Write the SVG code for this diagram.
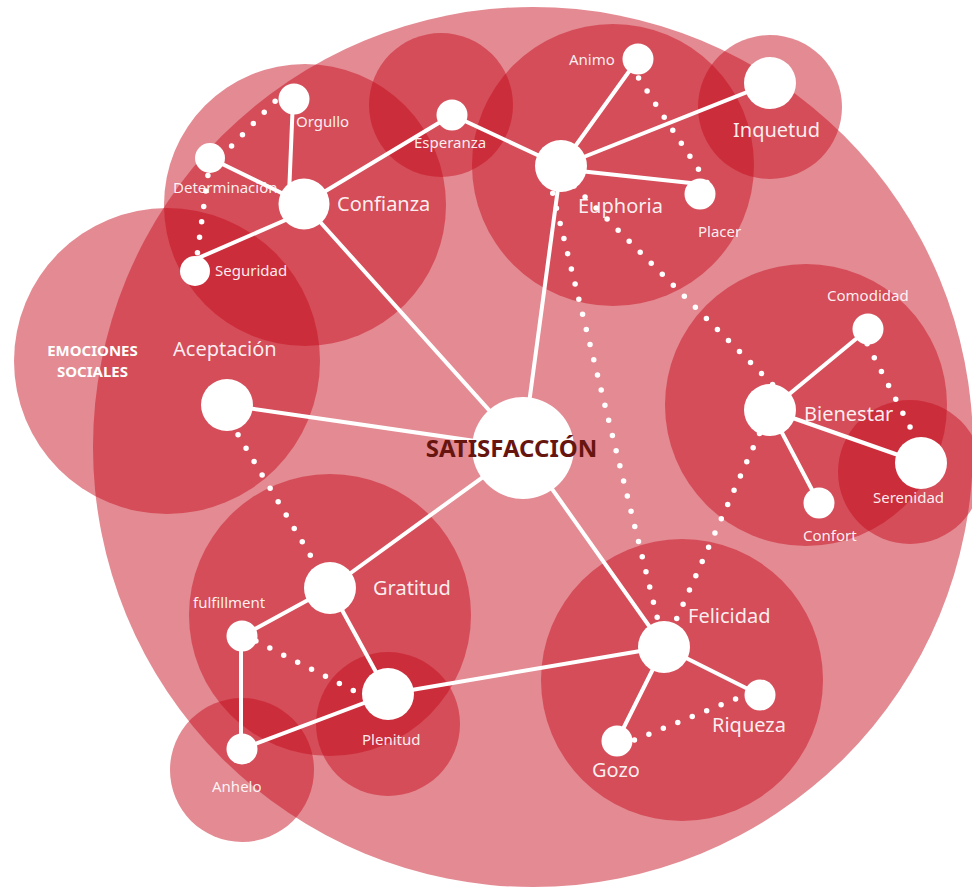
<svg xmlns="http://www.w3.org/2000/svg" width="972" height="887" viewBox="0 0 972 887">
<style>
.zone{fill:#c40a1c;fill-opacity:0.48}
.node{fill:#ffffff}
.ln{stroke:#ffffff;stroke-width:4;fill:none;stroke-linecap:round}
.dot{stroke:#ffffff;stroke-width:5.5;fill:none;stroke-linecap:round;stroke-dasharray:0 15.6}
.s{font-family:"Noto Sans","Liberation Sans",sans-serif;font-size:15px;fill:#ffffff;fill-opacity:0.92}
.l{font-family:"Noto Sans","Liberation Sans",sans-serif;font-size:20px;fill:#ffffff;fill-opacity:0.92}
.b{font-family:"Noto Sans","Liberation Sans",sans-serif;font-size:15px;font-weight:bold;fill:#ffffff;text-anchor:middle}
.c{font-family:"Noto Sans","Liberation Sans",sans-serif;font-size:24px;font-weight:bold;fill:#66150f;text-anchor:middle}
</style>
<rect width="972" height="887" fill="#ffffff"/>
<g id="zones">
<circle class="zone" cx="533" cy="447" r="440"/>
<circle class="zone" cx="167" cy="361" r="153"/>
<circle class="zone" cx="305" cy="205" r="141"/>
<circle class="zone" cx="441" cy="105" r="72"/>
<circle class="zone" cx="613" cy="165" r="141"/>
<circle class="zone" cx="770" cy="107" r="72"/>
<circle class="zone" cx="806" cy="405" r="141"/>
<circle class="zone" cx="910" cy="472" r="72"/>
<circle class="zone" cx="330" cy="615" r="141"/>
<circle class="zone" cx="388" cy="724" r="72"/>
<circle class="zone" cx="242" cy="770" r="72"/>
<circle class="zone" cx="682" cy="680" r="141"/>
</g>
<g id="connectors">
<line class="ln" x1="293" y1="99" x2="289" y2="195"/>
<line class="ln" x1="210" y1="158" x2="304" y2="204"/>
<line class="ln" x1="196" y1="259" x2="304" y2="212"/>
<line class="ln" x1="304" y1="204" x2="452" y2="115"/>
<line class="ln" x1="304" y1="204" x2="523" y2="448"/>
<line class="ln" x1="452" y1="115" x2="561" y2="166"/>
<line class="ln" x1="561" y1="166" x2="638" y2="59"/>
<line class="ln" x1="561" y1="166" x2="770" y2="83"/>
<line class="ln" x1="561" y1="169" x2="700" y2="184"/>
<line class="ln" x1="561" y1="166" x2="523" y2="448"/>
<line class="ln" x1="227" y1="405" x2="523" y2="448"/>
<line class="ln" x1="770" y1="410" x2="868" y2="329"/>
<line class="ln" x1="770" y1="410" x2="921" y2="463"/>
<line class="ln" x1="770" y1="410" x2="819" y2="503"/>
<line class="ln" x1="523" y1="448" x2="330" y2="588"/>
<line class="ln" x1="330" y1="588" x2="242" y2="636"/>
<line class="ln" x1="330" y1="588" x2="388" y2="694"/>
<line class="ln" x1="241" y1="636" x2="241" y2="749"/>
<line class="ln" x1="242" y1="749" x2="388" y2="694"/>
<line class="ln" x1="388" y1="694" x2="664" y2="647"/>
<line class="ln" x1="523" y1="448" x2="664" y2="647"/>
<line class="ln" x1="664" y1="647" x2="617" y2="741"/>
<line class="ln" x1="664" y1="647" x2="760" y2="695"/>
<line class="dot" x1="286" y1="90" x2="213" y2="165"/>
<line class="dot" x1="210" y1="160" x2="195" y2="271"/>
<line class="dot" x1="630" y1="65" x2="712" y2="190"/>
<line class="dot" x1="563" y1="175" x2="780" y2="392"/>
<line class="dot" x1="549" y1="178" x2="664" y2="645"/>
<line class="dot" x1="664" y1="647" x2="770" y2="410"/>
<line class="dot" x1="860" y1="330" x2="926" y2="458"/>
<line class="dot" x1="222" y1="408" x2="330" y2="588"/>
<line class="dot" x1="242" y1="634" x2="380" y2="704"/>
<line class="dot" x1="620" y1="746" x2="755" y2="691"/>
</g>
<g id="emociones-sociales"><text class="b" x="92.5" y="356">EMOCIONES</text><text class="b" x="92.5" y="377">SOCIALES</text></g>
<g id="orgullo"><circle class="node" cx="294" cy="99" r="15.5"/><text class="s" x="296" y="127">Orgullo</text></g>
<g id="determinacion"><circle class="node" cx="210" cy="158" r="15"/><text class="s" x="173" y="193">Determinación</text></g>
<g id="seguridad"><circle class="node" cx="195" cy="271" r="15"/><text class="s" x="215" y="276">Seguridad</text></g>
<g id="confianza"><circle class="node" cx="304" cy="204" r="25.5"/><text class="l" x="337" y="211">Confianza</text></g>
<g id="esperanza"><circle class="node" cx="452" cy="115" r="15.5"/><text class="s" x="414" y="148">Esperanza</text></g>
<g id="animo"><circle class="node" cx="638" cy="59" r="15.5"/><text class="s" x="569" y="65">Animo</text></g>
<g id="euphoria"><circle class="node" cx="561" cy="166" r="26"/><text class="l" x="578" y="213">Euphoria</text></g>
<g id="placer"><circle class="node" cx="700" cy="194" r="15.5"/><text class="s" x="698" y="237">Placer</text></g>
<g id="inquetud"><circle class="node" cx="770" cy="83" r="26"/><text class="l" x="733" y="137">Inquetud</text></g>
<g id="aceptacion"><circle class="node" cx="227" cy="405" r="26"/><text class="l" x="173" y="356">Aceptación</text></g>
<g id="satisfaccion"><circle class="node" cx="523" cy="448" r="51"/><text class="c" x="511.5" y="457">SATISFACCIÓN</text></g>
<g id="comodidad"><circle class="node" cx="868" cy="329" r="15.5"/><text class="s" x="827" y="301">Comodidad</text></g>
<g id="bienestar"><circle class="node" cx="770" cy="410" r="26"/><text class="l" x="804" y="421">Bienestar</text></g>
<g id="serenidad"><circle class="node" cx="921" cy="463" r="26"/><text class="s" x="873" y="503">Serenidad</text></g>
<g id="confort"><circle class="node" cx="819" cy="503" r="15.5"/><text class="s" x="803" y="541">Confort</text></g>
<g id="gratitud"><circle class="node" cx="330" cy="588" r="26"/><text class="l" x="373" y="595">Gratitud</text></g>
<g id="fulfillment"><circle class="node" cx="242" cy="636" r="15.5"/><text class="s" x="193" y="608">fulfillment</text></g>
<g id="plenitud"><circle class="node" cx="388" cy="694" r="26"/><text class="s" x="362" y="745">Plenitud</text></g>
<g id="anhelo"><circle class="node" cx="242" cy="749" r="15.5"/><text class="s" x="212" y="792">Anhelo</text></g>
<g id="felicidad"><circle class="node" cx="664" cy="647" r="26"/><text class="l" x="688" y="623">Felicidad</text></g>
<g id="riqueza"><circle class="node" cx="760" cy="695" r="15.5"/><text class="l" x="712" y="732">Riqueza</text></g>
<g id="gozo"><circle class="node" cx="617" cy="741" r="15.5"/><text class="l" x="592" y="777">Gozo</text></g>
</svg>
